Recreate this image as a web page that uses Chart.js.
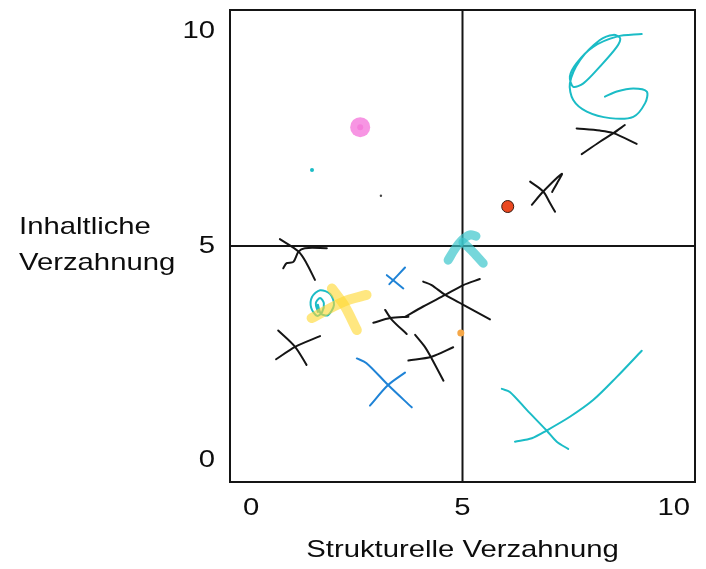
<!DOCTYPE html>
<html>
<head>
<meta charset="utf-8">
<script src="https://cdn.jsdelivr.net/npm/chart.js@4.4.1/dist/chart.umd.min.js"></script>
<style>
  body { margin: 0; background: #fff; }
</style>
</head>
<body>
<canvas id="matrix" width="706" height="569"></canvas>
<script>
// Axis ticks and titles
const xTicks = [0, 5, 10];
const yTicks = [0, 5, 10];
const xTitle = 'Strukturelle Verzahnung';
const yTitle = ['Inhaltliche', 'Verzahnung'];

// Hand drawn strokes as [x, y] in chart units
const blackX1a = [[0.68, 5.16], [1.12, 4.87], [1.31, 4.60], [1.51, 4.21]];
const blackX1b = [[0.76, 4.48], [0.84, 4.60], [1.00, 4.63], [1.12, 4.87], [1.27, 4.95], [1.79, 4.95]];
const blackX2a = [[0.64, 3.03], [1.04, 2.65], [1.31, 2.23]];
const blackX2b = [[0.59, 2.36], [1.04, 2.65], [1.63, 2.90]];
const blackX3a = [[2.89, 3.21], [3.29, 3.32], [3.72, 3.35]];
const blackX3b = [[3.17, 3.51], [3.33, 3.28], [3.68, 2.95]];
const blackX4a = [[3.88, 2.93], [4.11, 2.65], [4.27, 2.38], [4.55, 1.86]];
const blackX4b = [[3.72, 2.33], [4.27, 2.42], [4.78, 2.64]];
const blackX5a = [[4.07, 4.17], [4.27, 4.09], [4.59, 3.86], [5.02, 3.63], [5.65, 3.29]];
const blackX5b = [[3.64, 3.35], [4.07, 3.59], [4.59, 3.86], [5.02, 4.09], [5.41, 4.23]];
const blackX6a = [[6.60, 6.50], [6.91, 6.27], [7.07, 6.00], [7.19, 5.80]];
const blackX6b = [[6.64, 5.96], [6.91, 6.27], [7.35, 6.68], [7.24, 6.47], [7.12, 6.26]];
const blackX7a = [[7.70, 7.74], [8.25, 7.69], [8.57, 7.63], [9.12, 7.38]];
const blackX7b = [[7.82, 7.14], [8.25, 7.43], [8.57, 7.63], [8.84, 7.82]];
const blueSmallA = [[3.21, 4.32], [3.60, 4.01]];
const blueSmallB = [[3.27, 4.11], [3.64, 4.50]];
const blueBigA = [[2.50, 2.38], [2.73, 2.27], [3.24, 1.76], [3.80, 1.24]];
const blueBigB = [[2.81, 1.28], [3.24, 1.76], [3.64, 2.05]];
const yellowA = [[1.43, 3.32], [2.18, 3.70], [2.73, 3.86]];
const yellowB = [[1.91, 4.01], [2.22, 3.59], [2.50, 3.04]];
const cyanArrowA = [[4.66, 4.67], [4.82, 4.93], [4.99, 5.14], [5.18, 5.26], [5.32, 5.23]];
const cyanArrowB = [[5.01, 5.09], [5.25, 4.86], [5.49, 4.60]];
const cyanCurl = [[1.58, 3.46], [1.53, 3.67], [1.63, 3.79], [1.72, 3.67], [1.68, 3.46], [1.56, 3.37], [1.42, 3.56],
  [1.44, 3.81], [1.63, 3.97], [1.87, 3.88], [1.96, 3.63], [1.82, 3.39], [1.65, 3.42], [1.58, 3.63]];
const cyanSpiral = [[9.24, 9.94], [8.65, 9.88], [8.09, 9.64], [7.70, 9.26], [7.54, 8.95], [7.62, 8.71], [7.86, 8.79],
  [8.25, 9.18], [8.65, 9.64], [8.73, 9.84], [8.57, 9.92], [8.25, 9.80], [7.78, 9.33], [7.54, 8.79], [7.62, 8.40],
  [7.94, 8.13], [8.49, 7.98], [9.04, 8.01], [9.32, 8.33], [9.36, 8.60], [9.04, 8.67], [8.65, 8.60], [8.37, 8.48]];
const cyanArcLong = [[6.24, 0.44], [6.64, 0.52], [6.99, 0.70], [7.54, 1.02], [8.09, 1.41], [8.65, 1.95], [9.24, 2.56]];
const cyanArcShort = [[5.93, 1.67], [6.12, 1.60], [6.52, 1.18], [6.99, 0.70], [7.23, 0.44], [7.50, 0.27]];

// Single dots
const pinkDot = [2.58, 7.77];
const redDot = [6.07, 5.92];
const orangeDot = [4.96, 2.97];
const cyanDot = [1.44, 6.77];
const blackDot = [3.07, 6.17];

const toXY = pts => pts.map(([x, y]) => ({ x: x, y: y }));

function stroke(pts, color, width) {
    return {
        type: 'line',
        data: toXY(pts),
        borderColor: color,
        borderWidth: width,
        borderCapStyle: 'round',
        borderJoinStyle: 'round',
        pointRadius: 0,
        tension: 0.3,
        fill: false
    };
}

function dot(p, color, radius, border, borderWidth) {
    return {
        type: 'scatter',
        data: toXY([p]),
        backgroundColor: color,
        borderColor: border || color,
        borderWidth: borderWidth || 0,
        pointRadius: radius,
        pointHoverRadius: radius
    };
}

const black = '#151515';
const blue = '#1f83d6';
const cyan = '#1bbcc6';

const datasets = [
    stroke(yellowA, 'rgba(255, 216, 50, 0.62)', 10),
    stroke(yellowB, 'rgba(255, 216, 50, 0.62)', 10),
    stroke(cyanArrowA, 'rgba(60, 198, 204, 0.7)', 9),
    stroke(cyanArrowB, 'rgba(60, 198, 204, 0.7)', 9),
    stroke(cyanCurl, cyan, 2),
    stroke(cyanSpiral, cyan, 2),
    stroke(cyanArcLong, cyan, 2),
    stroke(cyanArcShort, cyan, 2),
    stroke(blueSmallA, blue, 2),
    stroke(blueSmallB, blue, 2),
    stroke(blueBigA, blue, 2),
    stroke(blueBigB, blue, 2),
    stroke(blackX1a, black, 2),
    stroke(blackX1b, black, 2),
    stroke(blackX2a, black, 2),
    stroke(blackX2b, black, 2),
    stroke(blackX3a, black, 2),
    stroke(blackX3b, black, 2),
    stroke(blackX4a, black, 2),
    stroke(blackX4b, black, 2),
    stroke(blackX5a, black, 2),
    stroke(blackX5b, black, 2),
    stroke(blackX6a, black, 2),
    stroke(blackX6b, black, 2),
    stroke(blackX7a, black, 2),
    stroke(blackX7b, black, 2),
    dot(pinkDot, 'rgba(246, 130, 222, 0.85)', 10),
    dot(pinkDot, '#f063c9', 3),
    dot(redDot, '#ea4820', 6, '#3a1a10', 1),
    dot(orangeDot, '#f5a748', 3.5),
    dot(cyanDot, cyan, 2),
    dot(blackDot, '#444', 1.2)
];

// Frame, centre lines, tick labels and titles (text is stretched like the source)
const framePlugin = {
    id: 'frame',
    beforeDatasetsDraw(chart) {
        const { ctx, chartArea: a, scales: { x, y } } = chart;
        ctx.save();
        ctx.strokeStyle = '#151515';
        ctx.lineWidth = 2;
        ctx.strokeRect(a.left, a.top, a.right - a.left, a.bottom - a.top);
        ctx.beginPath();
        ctx.moveTo(x.getPixelForValue(5), a.top);
        ctx.lineTo(x.getPixelForValue(5), a.bottom);
        ctx.moveTo(a.left, y.getPixelForValue(5));
        ctx.lineTo(a.right, y.getPixelForValue(5));
        ctx.stroke();
        ctx.restore();
    },
    afterDraw(chart) {
        const { ctx, chartArea: a, scales: { x, y } } = chart;
        const sx = 1.22;
        ctx.save();
        ctx.fillStyle = '#0d0d0d';
        ctx.font = '24px "Liberation Sans", Arial, sans-serif';

        const text = (str, px, py, align, base) => {
            ctx.save();
            ctx.translate(px, py);
            ctx.scale(sx, 1);
            ctx.textAlign = align;
            ctx.textBaseline = base;
            ctx.fillText(str, 0, 0);
            ctx.restore();
        };

        xTicks.forEach(v => text(String(v), x.getPixelForValue(v), 508, 'center', 'middle'));
        yTicks.forEach(v => text(String(v), 215, y.getPixelForValue(v), 'right', 'middle'));
        text(xTitle, (a.left + a.right) / 2, 557, 'center', 'alphabetic');
        text(yTitle[0], 19, 234, 'left', 'alphabetic');
        text(yTitle[1], 19, 270, 'left', 'alphabetic');
        ctx.restore();
    }
};

new Chart(document.getElementById('matrix').getContext('2d'), {
    type: 'line',
    data: { datasets: datasets },
    options: {
        responsive: false,
        animation: false,
        events: [],
        layout: { padding: { top: 10, right: 11, left: 0, bottom: 0 } },
        plugins: { legend: { display: false }, tooltip: { enabled: false } },
        scales: {
            x: {
                type: 'linear',
                min: -0.5,
                max: 10.5,
                grid: { display: false },
                border: { display: false },
                ticks: { display: false },
                afterFit: s => { s.height = 87; }
            },
            y: {
                type: 'linear',
                min: -0.5,
                max: 10.5,
                grid: { display: false },
                border: { display: false },
                ticks: { display: false },
                afterFit: s => { s.width = 230; }
            }
        }
    },
    plugins: [framePlugin]
});
</script>
</body>
</html>
